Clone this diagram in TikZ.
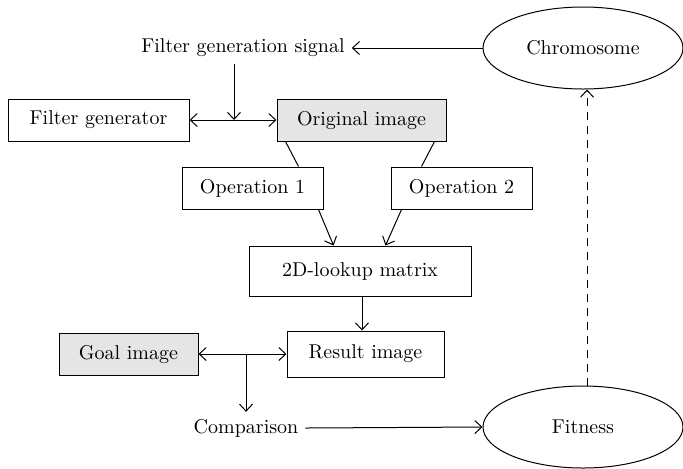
\documentclass[tikz,border=0pt]{standalone}
\usetikzlibrary{arrows.meta, positioning, shapes.geometric}
\tikzset{
  box/.style = {rectangle, draw=black, minimum height=21pt, inner sep=3pt, font=\normalsize},
  shaded/.style = {fill=black!10},
  oval/.style = {ellipse, draw=black, minimum width=100pt, minimum height=41pt, font=\normalsize},
  arr/.style = {-{Straight Barb[length=3.5pt,width=6.5pt]}},
  biarr/.style = {{Straight Barb[length=3.5pt,width=6.5pt]}-{Straight Barb[length=3.5pt,width=6.5pt]}}
}

\begin{document}
\begin{tikzpicture}[x=0.5pt, y=-0.5pt, line width=0.5pt]
\useasboundingbox (0,0) rectangle (683,468);

% Top row
\node[oval] (chromo) at (583,48) {Chromosome};
\node (signal) at (243,48) {Filter generation signal};

% Row 1
\node[box, minimum width=90.5pt] (fgen) at (98.5,120) {Filter generator};
\node[box, shaded, minimum width=84.5pt] (orig) at (361.5,120) {Original image};

% Row 2
\node[box, minimum width=70.5pt] (op1) at (252.5,188) {Operation 1};
\node[box, minimum width=70.5pt] (op2) at (461.5,188) {Operation 2};

% Row 3
\node[box, minimum width=111pt, minimum height=25pt] (lut) at (360,271) {2D-lookup matrix};

% Row 4
\node[box, minimum width=78.5pt, minimum height=23pt] (result) at (365.5,354) {Result image};
\node[box, shaded, minimum width=69.5pt] (goal) at (128.5,354) {Goal image};

% Bottom row
\node (comp) at (246,428) {Comparison};
\node[oval] (fit) at (583,427) {Fitness};

% ----- ARROWS -----
\coordinate (j1) at (234,120);
\coordinate (j2) at (246,354);
% Chromosome to signal
\draw[arr] (chromo.west) -- (signal.east);
% signal into the link
\draw[arr] (signal.south -| j1) -- (j1);
\draw[biarr] (fgen.east) -- (orig.west);
% Original image to operations
\draw ([xshift=4.5pt]orig.south west) -- ([xshift=-12.5pt]op1.north east);
\draw ([xshift=-6pt]orig.south east) -- ([xshift=15.5pt]op2.north west);
% Operations to lookup
\draw[arr] ([xshift=-2.5pt]op1.south east) -- ([xshift=42.5pt]lut.north west);
\draw[arr] ([xshift=5.5pt]op2.south west) -- ([xshift=-43pt]lut.north east);
\draw[arr] ([xshift=1pt]lut.south) -- ([xshift=1pt]lut.south |- result.north);
% Goal vs result
\draw[biarr] (goal.east) -- (result.west);
\draw[arr] (j2) -- (comp.north -| j2);
\draw[arr] (comp.east) -- (fit.west);
% Fitness back to chromosome
\draw[arr, dashed, dash pattern=on 4pt off 3pt] ([xshift=2pt]fit.north) -- ([xshift=2pt]chromo.south);

\end{tikzpicture}
\end{document}
